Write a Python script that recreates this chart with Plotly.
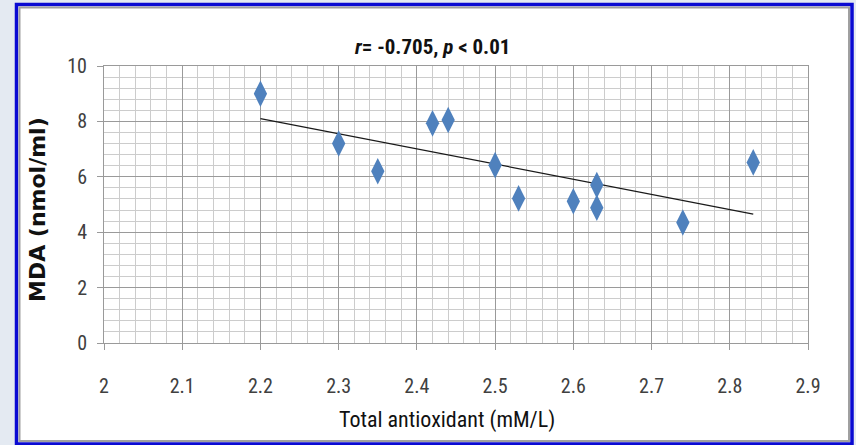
import numpy as np
import plotly.graph_objects as go

# Total antioxidant (mM/L) vs MDA (nmol/ml)
tac = [2.20, 2.30, 2.35, 2.42, 2.44, 2.50, 2.53, 2.60, 2.63, 2.63, 2.74, 2.83]
mda = [9.00, 7.20, 6.20, 7.93, 8.05, 6.42, 5.22, 5.12, 5.70, 4.88, 4.35, 6.52]

x_ticks = [2.0, 2.1, 2.2, 2.3, 2.4, 2.5, 2.6, 2.7, 2.8, 2.9]
x_tick_text = ["2", "2.1", "2.2", "2.3", "2.4", "2.5", "2.6", "2.7", "2.8", "2.9"]
y_ticks = [0, 2, 4, 6, 8, 10]

title_text = "<b><i>r</i>= -0.705, <i>p</i> < 0.01</b>"
x_title = "Total antioxidant (mM/L)"
y_title = "MDA (nmol/ml)"

# least-squares trend line over the data range
slope, intercept = np.polyfit(tac, mda, 1)
fit_x = [min(tac), max(tac)]
fit_y = [slope * v + intercept for v in fit_x]

W, H = 856, 445
L, R, T, B = 104, 48, 66, 102
pw, ph = W - L - R, H - T - B


def px(xp):
    return (xp - L) / pw


def py(yp):
    return (H - B - yp) / ph


narrow = "Liberation Sans Narrow, Roboto Condensed, Open Sans, sans-serif"

fig = go.Figure()
fig.add_trace(go.Scatter(
    x=fit_x, y=fit_y, mode="lines",
    line=dict(color="#1a1a1a", width=1.3),
    hoverinfo="skip", showlegend=False,
))
fig.add_trace(go.Scatter(
    x=tac, y=mda, mode="markers",
    marker=dict(symbol="diamond-tall", size=19, color="#4f81bd",
                line=dict(width=0)),
    showlegend=False,
))

# outer slide frame: blue border, thin grey inner edge, white card
fig.add_shape(type="rect", xref="paper", yref="paper", layer="below",
              x0=px(16.5), x1=px(852), y0=py(444), y1=py(4.5),
              fillcolor="white", line=dict(color="#0a0ad2", width=3.5))
fig.add_shape(type="rect", xref="paper", yref="paper", layer="below",
              x0=px(19.5), x1=px(849), y0=py(441), y1=py(7.5),
              fillcolor="rgba(0,0,0,0)", line=dict(color="#a0a0a0", width=2))

fig.add_annotation(text=title_text, xref="paper", yref="paper",
                   x=px(432), y=py(47), showarrow=False,
                   xanchor="center", yanchor="middle",
                   font=dict(family=narrow, size=21, color="#111111"))
fig.add_annotation(text=x_title, xref="paper", yref="paper",
                   x=px(447), y=py(420), showarrow=False,
                   xanchor="center", yanchor="middle",
                   font=dict(family=narrow, size=22, color="#111111"))
fig.add_annotation(text="<b>" + y_title + "</b>", xref="paper", yref="paper",
                   x=px(37), y=py(210), showarrow=False, textangle=-90,
                   xanchor="center", yanchor="middle",
                   font=dict(family="DejaVu Sans", size=22, color="#111111"))

tick_font = dict(family=narrow, size=20, color="#404040")

fig.update_layout(
    width=W, height=H,
    margin=dict(l=L, r=R, t=T, b=B, pad=0),
    paper_bgcolor="#e4eaf2",
    plot_bgcolor="white",
    xaxis=dict(
        range=[2.0, 2.9], tickvals=x_ticks, ticktext=x_tick_text,
        showgrid=True, gridcolor="#9a9a9a", gridwidth=1,
        minor=dict(dtick=0.02, showgrid=True, gridcolor="#cccccc", gridwidth=1),
        showline=True, linecolor="#9a9a9a", linewidth=1, mirror=True,
        ticks="outside", ticklen=6, tickcolor="#9a9a9a",
        ticklabelstandoff=19,
        tickfont=tick_font,
        zeroline=False,
    ),
    yaxis=dict(
        range=[0, 10], tickvals=y_ticks,
        showgrid=True, gridcolor="#9a9a9a", gridwidth=1,
        minor=dict(dtick=0.4, showgrid=True, gridcolor="#cccccc", gridwidth=1),
        showline=True, linecolor="#9a9a9a", linewidth=1, mirror=True,
        ticks="outside", ticklen=6, tickcolor="#9a9a9a",
        ticklabelstandoff=6,
        tickfont=tick_font,
        zeroline=False,
    ),
)

fig.write_html("out.html")
